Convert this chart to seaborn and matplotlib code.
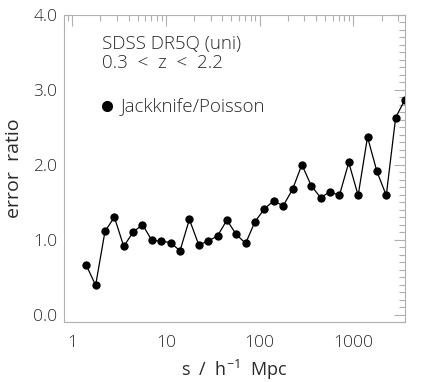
import numpy as np
import pandas as pd
import matplotlib
matplotlib.use("Agg")
import matplotlib.pyplot as plt
import seaborn as sns
from matplotlib.ticker import FixedLocator, MultipleLocator, LogLocator, NullFormatter

# separation bins (log10 s / h^-1 Mpc, 0.1 dex bins)
log_s = [0.15, 0.25, 0.35, 0.45, 0.55, 0.65, 0.75, 0.85, 0.95, 1.05,
         1.15, 1.25, 1.35, 1.45, 1.55, 1.65, 1.75, 1.85, 1.95, 2.05,
         2.15, 2.25, 2.35, 2.45, 2.55, 2.65, 2.75, 2.85, 2.95, 3.05,
         3.15, 3.25, 3.35, 3.45, 3.55]
# jackknife / poisson error ratio
ratio = [0.66, 0.39, 1.11, 1.30, 0.91, 1.10, 1.20, 0.99, 0.98, 0.96,
         0.85, 1.27, 0.93, 0.98, 1.05, 1.26, 1.07, 0.95, 1.24, 1.41,
         1.52, 1.45, 1.67, 2.00, 1.72, 1.56, 1.64, 1.59, 2.03, 1.59,
         2.37, 1.91, 1.59, 2.63, 2.87]

df = pd.DataFrame({"s": 10 ** np.array(log_s), "ratio": ratio})

sns.set_style("white")
plt.rcParams["font.family"] = ["Open Sans", "DejaVu Sans"]
plt.rcParams["font.weight"] = "light"
plt.rcParams["mathtext.default"] = "regular"
txt = "#2a2a2a"
frame = "#b0b0b0"

fig = plt.figure(figsize=(4.36, 3.82), dpi=100)
ax = fig.add_axes([0.147, 0.157, 0.782, 0.804])

sns.lineplot(data=df, x="s", y="ratio", ax=ax, color="black", lw=0.9,
             marker="o", markersize=6, markeredgewidth=0, clip_on=True)

ax.set_xscale("log")
ax.set_xlim(0.82, 3550)
ax.set_ylim(-0.1, 4.0)

ax.yaxis.set_major_locator(FixedLocator([0, 1, 2, 3, 4]))
ax.yaxis.set_minor_locator(MultipleLocator(0.1))
ax.set_yticklabels(["0.0", "1.0", "2.0", "3.0", "4.0"])
ax.xaxis.set_major_locator(FixedLocator([1, 10, 100, 1000]))
ax.xaxis.set_minor_locator(LogLocator(base=10, subs=np.arange(2, 10)))
ax.xaxis.set_minor_formatter(NullFormatter())
ax.set_xticklabels(["1", "10", "100", "1000"])

ax.tick_params(which="both", direction="in", top=True, right=True,
               color=frame, labelcolor=txt, labelsize=12.5, width=0.8)
ax.tick_params(which="major", length=8)
ax.tick_params(which="minor", length=4)
ax.tick_params(axis="x", pad=9)
ax.tick_params(axis="y", pad=5)
for sp in ax.spines.values():
    sp.set_color(frame)
    sp.set_linewidth(0.8)

ax.set_xlabel(r"s  /  h$^{-1}$  Mpc", fontsize=13, color=txt, labelpad=5)
ax.set_ylabel("error  ratio", fontsize=14, color=txt, labelpad=7)

ax.text(0.11, 0.905, "SDSS DR5Q (uni)", transform=ax.transAxes,
        fontsize=13.5, color=txt, va="center")
ax.text(0.11, 0.845, "0.3  <  z  <  2.2", transform=ax.transAxes,
        fontsize=13.5, color=txt, va="center")
ax.plot([0.125], [0.703], "o", color="black", ms=7, transform=ax.transAxes)
ax.text(0.165, 0.703, "Jackknife/Poisson", transform=ax.transAxes,
        fontsize=13.5, color=txt, va="center")

fig.savefig("out.png", dpi=100)
